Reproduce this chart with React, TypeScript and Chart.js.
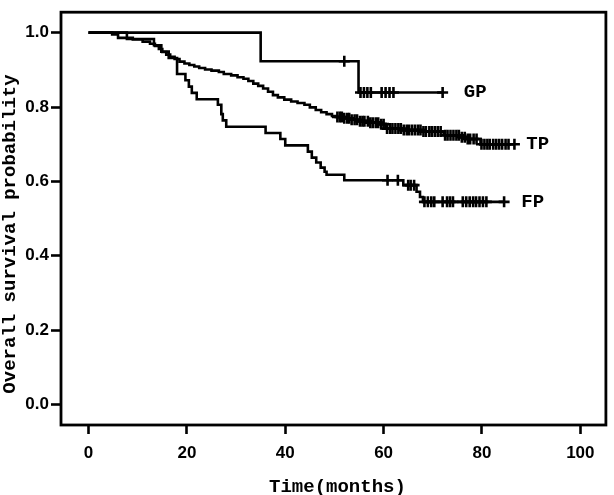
import React, { useEffect, useRef } from 'react';
import { Chart, registerables } from 'chart.js';

Chart.register(...registerables);

// ---- data ----
const X_TICKS = [0, 20, 40, 60, 80, 100];
const Y_TICKS = [0, 0.2, 0.4, 0.6, 0.8, 1.0];
const X_TITLE = 'Time(months)';
const Y_TITLE = 'Overall survival probability';

const GP_TIME = [0, 35.0, 54.9, 72.0];
const GP_SURV = [1.0, 0.923, 0.839, 0.839];
const GP_CENSOR = [52.0, 55.3, 56.0, 56.7, 57.4, 59.6, 60.4, 61.2, 62.0, 72.0];

const TP_TIME = [
  0, 4.8, 6.0, 9.0, 11.0, 12.5, 13.5, 14.3, 15.0, 15.8, 16.6, 17.5, 18.5, 19.5,
  20.5, 21.5, 22.5, 23.7, 25.0, 26.5, 27.5, 29.0, 30.3, 31.5, 32.5, 33.5, 34.5,
  35.5, 36.5, 37.5, 38.5, 39.8, 41.2, 42.5, 43.9, 45.0, 46.2, 47.3, 48.4, 49.5,
  50.5, 52.0, 53.5, 55.0, 57.0, 59.0, 60.4, 64.0, 68.0, 72.2, 75.5, 77.0, 79.7,
  86.6,
];
const TP_SURV = [
  1.0, 0.995, 0.986, 0.982, 0.976, 0.97, 0.964, 0.956, 0.948, 0.941, 0.935, 0.929,
  0.922, 0.917, 0.913, 0.909, 0.905, 0.901, 0.898, 0.894, 0.889, 0.885, 0.88,
  0.876, 0.87, 0.863, 0.857, 0.85, 0.841, 0.832, 0.826, 0.82, 0.815, 0.811, 0.806,
  0.799, 0.792, 0.786, 0.781, 0.776, 0.773, 0.77, 0.766, 0.762, 0.758, 0.754,
  0.742, 0.738, 0.734, 0.724, 0.719, 0.714, 0.7, 0.7,
];
const TP_CENSOR = [
  50.6, 51.1, 51.5, 52.0, 52.6, 53.0, 53.5, 54.1, 54.6, 55.2, 55.7, 56.1, 56.8,
  57.3, 57.8, 58.4, 58.9, 59.5, 60.0, 60.7, 61.3, 61.8, 62.4, 63.0, 63.5, 64.1,
  64.7, 65.2, 65.8, 66.4, 67.0, 67.5, 68.1, 68.6, 69.3, 69.8, 70.4, 71.0, 71.6,
  72.5, 73.0, 73.6, 74.2, 74.8, 75.3, 75.9, 76.5, 77.1, 77.6, 78.3, 78.9, 79.9,
  80.5, 81.1, 81.6, 82.3, 82.9, 83.5, 84.1, 84.8, 85.4, 86.6,
];

const FP_TIME = [
  0, 7.8, 13.3, 14.8, 16.3, 18.0, 19.7, 20.4, 21.0, 22.0, 26.3, 27.0, 27.3, 28.0,
  36.0, 39.0, 40.0, 44.6, 45.4, 46.3, 47.2, 48.0, 48.4, 52.0, 64.0, 66.7, 67.4,
  68.0, 84.5,
];
const FP_SURV = [
  1.0, 0.983, 0.966, 0.949, 0.932, 0.889, 0.872, 0.855, 0.838, 0.821, 0.806, 0.781,
  0.764, 0.747, 0.73, 0.714, 0.697, 0.68, 0.664, 0.651, 0.637, 0.626, 0.618, 0.603,
  0.59, 0.572, 0.558, 0.545, 0.545,
];
const FP_CENSOR = [
  60.8, 62.9, 65.0, 65.5, 66.2, 68.3, 69.0, 69.7, 70.3, 72.0, 72.9, 73.5, 74.1,
  76.1, 76.8, 77.5, 78.2, 78.8, 79.5, 80.2, 80.9, 84.5,
];

const GROUP_LABELS = ['GP', 'TP', 'FP'];
const LABEL_X = [76.3, 89.0, 88.0];
const LABEL_Y = [0.839, 0.7, 0.545];

// ---- helpers ----
function survAt(times: number[], surv: number[], t: number): number {
  let v = surv[0];
  for (let i = 0; i < times.length; i++) {
    if (times[i] <= t) v = surv[i];
  }
  return v;
}

function curveDatasets(times: number[], surv: number[], censor: number[]) {
  return [
    {
      data: times.map((t, i) => ({ x: t, y: surv[i] })),
      showLine: true,
      stepped: 'before' as const,
      borderColor: '#000',
      borderWidth: 2.6,
      pointRadius: 0,
      fill: false,
    },
    {
      data: censor.map((t) => ({ x: t, y: survAt(times, surv, t) })),
      showLine: false,
      pointStyle: 'cross' as const,
      pointRadius: 5.5,
      pointBorderWidth: 2.6,
      pointBorderColor: '#000',
      borderColor: '#000',
      backgroundColor: '#000',
    },
  ];
}

const framePlugin = {
  id: 'frameAndText',
  afterDatasetsDraw(chart: any) {
    const { ctx, chartArea: a, scales } = chart;
    ctx.save();
    ctx.strokeStyle = '#000';
    ctx.lineWidth = 2.8;
    ctx.strokeRect(a.left, a.top, a.right - a.left, a.bottom - a.top);
    ctx.fillStyle = '#000';
    ctx.font = 'bold 19px "Liberation Mono"';
    ctx.textBaseline = 'middle';
    ctx.textAlign = 'left';
    GROUP_LABELS.forEach((l, i) => {
      ctx.fillText(l, scales.x.getPixelForValue(LABEL_X[i]), scales.y.getPixelForValue(LABEL_Y[i]));
    });
    ctx.textAlign = 'center';
    ctx.fillText(X_TITLE, (a.left + a.right) / 2 + 4, 487);
    ctx.translate(10, 234);
    ctx.rotate(-Math.PI / 2);
    ctx.fillText(Y_TITLE, 0, 0);
    ctx.restore();
  },
};

export default function App() {
  const ref = useRef<HTMLCanvasElement | null>(null);
  useEffect(() => {
    if (!ref.current) return;
    const chart = new Chart(ref.current, {
      type: 'scatter',
      data: {
        datasets: [
          ...curveDatasets(GP_TIME, GP_SURV, GP_CENSOR),
          ...curveDatasets(TP_TIME, TP_SURV, TP_CENSOR),
          ...curveDatasets(FP_TIME, FP_SURV, FP_CENSOR),
        ] as any,
      },
      options: {
        animation: false,
        responsive: true,
        maintainAspectRatio: false,
        layout: { padding: { top: 2, right: 4, left: 0, bottom: 0 } },
        plugins: { legend: { display: false }, tooltip: { enabled: false } },
        scales: {
          x: {
            type: 'linear',
            min: -5.6,
            max: 105.2,
            afterFit: (s: any) => {
              s.height = 70;
            },
            afterBuildTicks: (s: any) => {
              s.ticks = X_TICKS.map((v) => ({ value: v }));
            },
            border: { display: false },
            grid: {
              drawOnChartArea: false,
              drawTicks: true,
              tickLength: 9,
              tickWidth: 2.6,
              tickColor: '#000',
            },
            ticks: {
              color: '#000',
              padding: 9,
              maxRotation: 0,
              font: { family: '"Liberation Sans", Arial', size: 17, weight: 'bold' },
              callback: (v: any) => String(v),
            },
          },
          y: {
            type: 'linear',
            min: -0.055,
            max: 1.055,
            afterFit: (s: any) => {
              s.width = 61;
            },
            afterBuildTicks: (s: any) => {
              s.ticks = Y_TICKS.map((v) => ({ value: v }));
            },
            border: { display: false },
            grid: {
              drawOnChartArea: false,
              drawTicks: true,
              tickLength: 10,
              tickWidth: 2.6,
              tickColor: '#000',
            },
            ticks: {
              color: '#000',
              padding: 2,
              font: { family: '"Liberation Sans", Arial', size: 17, weight: 'bold' },
              callback: (v: any) => Number(v).toFixed(1),
            },
          },
        },
      } as any,
      plugins: [framePlugin],
    });
    return () => chart.destroy();
  }, []);
  return (
    <div style={{ position: 'fixed', left: 0, top: 0, width: 614, height: 495, background: '#fff' }}>
      <canvas ref={ref} />
    </div>
  );
}
